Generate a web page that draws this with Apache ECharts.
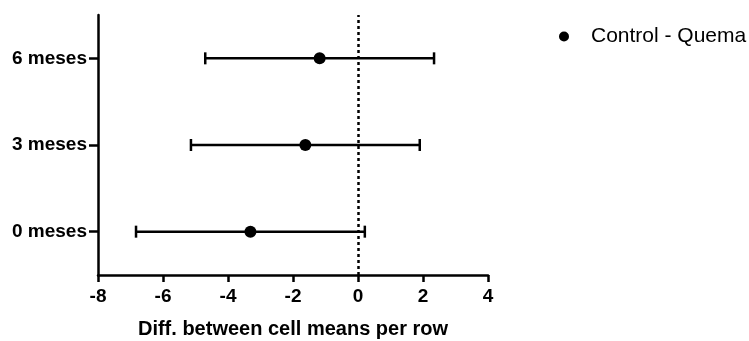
<!DOCTYPE html>
<html>
<head>
<meta charset="utf-8">
<script src="https://cdn.jsdelivr.net/npm/echarts@6/dist/echarts.min.js"></script>
<style>
  html, body { margin: 0; padding: 0; background: #fff; }
  #chart { width: 749px; height: 341px; }
</style>
</head>
<body>
<div id="chart"></div>
<script>
// datos
var categories = ['0 meses', '3 meses', '6 meses'];
var means = [-3.31, -1.62, -1.18];
var lower = [-6.83, -5.14, -4.70];
var upper = [0.21, 1.90, 2.34];
var xTicks = { min: -8, max: 4, interval: 2 };

var chart = echarts.init(document.getElementById('chart'));

var font = '"Liberation Sans", Arial, sans-serif';

var errData = categories.map(function (c, i) { return [i, lower[i], upper[i]]; });
var pointData = categories.map(function (c, i) { return [means[i], i]; });

var option = {
  animation: false,
  grid: { left: 98, top: 15, width: 390, height: 260, outerBoundsMode: 'none', containLabel: false },
  legend: {
    data: [{ name: 'Control - Quema', itemStyle: { color: '#000' } }],
    left: 554,
    top: 21,
    icon: 'circle',
    itemWidth: 10,
    itemHeight: 10,
    textStyle: { fontFamily: font, fontSize: 21, color: '#000', padding: [0, 0, 0, 17] }
  },
  xAxis: {
    type: 'value',
    min: xTicks.min,
    max: xTicks.max,
    interval: xTicks.interval,
    name: 'Diff. between cell means per row',
    nameLocation: 'middle',
    nameGap: 44,
    nameTextStyle: { fontFamily: font, fontSize: 20, fontWeight: 'bold', color: '#000' },
    axisLine: { show: true, onZero: false, lineStyle: { color: '#000', width: 2.5 } },
    axisTick: { show: true, length: 7, lineStyle: { color: '#000', width: 2.5 } },
    axisLabel: { fontFamily: font, fontSize: 19, fontWeight: 'bold', color: '#000', margin: 12 },
    splitLine: { show: false }
  },
  yAxis: {
    type: 'category',
    data: categories,
    boundaryGap: true,
    axisLine: { show: true, onZero: false, lineStyle: { color: '#000', width: 2.5 } },
    axisTick: { show: true, alignWithLabel: true, length: 9, lineStyle: { color: '#000', width: 2.5 } },
    axisLabel: { fontFamily: font, fontSize: 19, fontWeight: 'bold', color: '#000', margin: 11 }
  },
  series: [
    {
      name: 'Control - Quema',
      type: 'custom',
      itemStyle: { color: '#000' },
      renderItem: function (params, api) {
        var y = api.value(0);
        var a = api.coord([api.value(1), y]);
        var b = api.coord([api.value(2), y]);
        var h = 6;
        var style = { stroke: '#000', lineWidth: 2.5 };
        return {
          type: 'group',
          children: [
            { type: 'line', shape: { x1: a[0], y1: a[1], x2: b[0], y2: b[1] }, style: style },
            { type: 'line', shape: { x1: a[0], y1: a[1] - h, x2: a[0], y2: a[1] + h }, style: style },
            { type: 'line', shape: { x1: b[0], y1: b[1] - h, x2: b[0], y2: b[1] + h }, style: style }
          ]
        };
      },
      encode: { y: 0, x: [1, 2] },
      data: errData,
      z: 2
    },
    {
      name: 'Control - Quema',
      type: 'scatter',
      symbol: 'circle',
      symbolSize: 12,
      itemStyle: { color: '#000', opacity: 1 },
      data: pointData,
      z: 3,
      markLine: {
        silent: true,
        symbol: 'none',
        label: { show: false },
        lineStyle: { color: '#000', width: 2.5, type: [3, 3] },
        data: [{ xAxis: 0 }]
      }
    }
  ]
};

chart.setOption(option);
</script>
</body>
</html>
